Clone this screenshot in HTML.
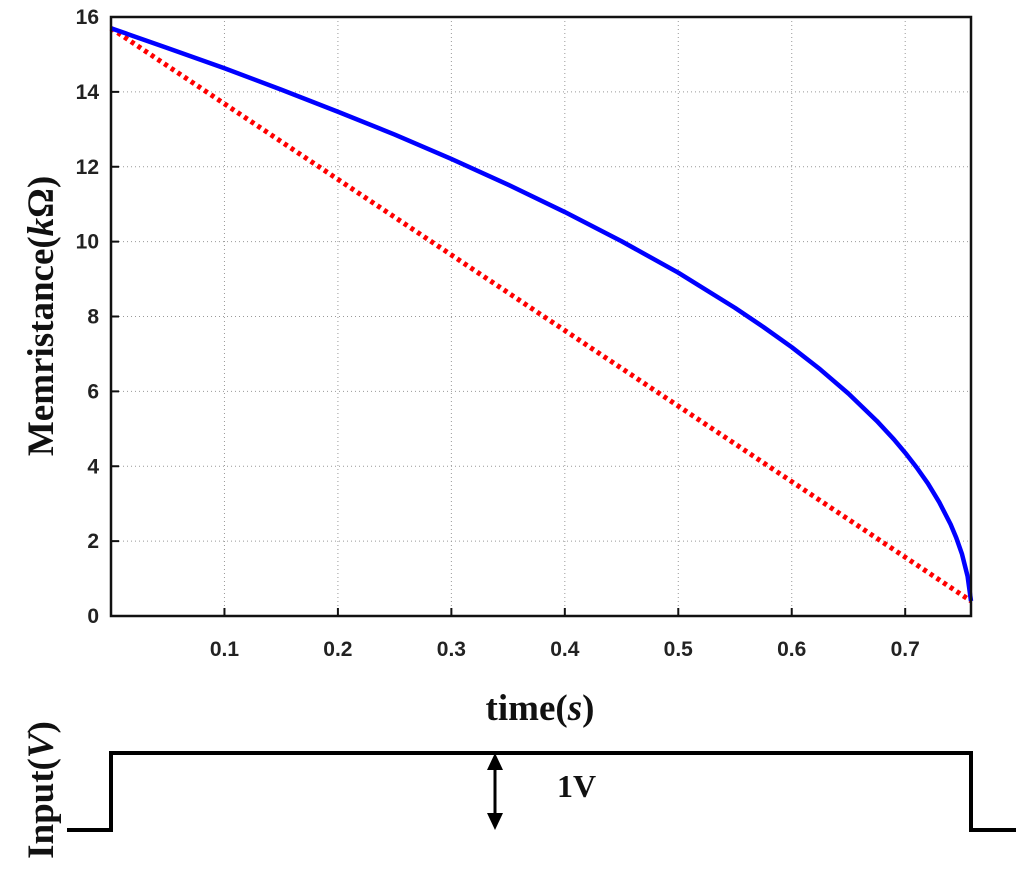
<!DOCTYPE html>
<html><head><meta charset="utf-8"><style>
body{margin:0;background:#fff;}
svg{display:block;}
.tk{font-family:"Liberation Sans",sans-serif;font-weight:bold;font-size:21px;fill:#222;}
.lb{font-family:"Liberation Serif",serif;font-weight:bold;font-size:37px;fill:#111;}
</style></head><body>
<svg id="c" width="1024" height="877" viewBox="0 0 1024 877">
<g id="grid"></g>
<g id="ticks"></g>
<g id="series"></g>
<rect x="111" y="17" width="860" height="599" fill="none" stroke="#111" stroke-width="2.5"/>
<text class="lb" x="540" y="720" text-anchor="middle">time(<tspan font-style="italic">s</tspan>)</text>
<text class="lb" transform="translate(53,316) rotate(-90)" text-anchor="middle">Memristance(<tspan font-style="italic">k</tspan>Ω)</text>
<text class="lb" transform="translate(53,790) rotate(-90)" text-anchor="middle">Input(<tspan font-style="italic">V</tspan>)</text>
<polyline points="67,830 111,830 111,753 971,753 971,830 1016,830" fill="none" stroke="#000" stroke-width="4"/>
<g>
<line x1="495" y1="765" x2="495" y2="818" stroke="#000" stroke-width="3"/>
<polygon points="495,753 487,770 503,770" fill="#000"/>
<polygon points="495,830 487,813 503,813" fill="#000"/>
</g>
<text class="lb" x="557" y="797" style="font-size:32px">1V</text>
</svg>
<script>
const xTicks=[0.1,0.2,0.3,0.4,0.5,0.6,0.7];
const yTicks=[0,2,4,6,8,10,12,14,16];
const tVals=[0,0.05,0.1,0.15,0.2,0.25,0.3,0.35,0.4,0.45,0.5,0.55,0.575,0.6,0.625,0.65,0.675,0.69,0.7,0.71,0.72,0.73,0.74,0.745,0.75,0.755,0.758];
const rVals=[15.7,15.17,14.63,14.06,13.47,12.86,12.21,11.52,10.79,10.01,9.17,8.23,7.72,7.18,6.59,5.94,5.21,4.72,4.36,3.97,3.54,3.04,2.45,2.09,1.66,1.06,0.4];
const linT=[0,0.758];
const linR=[15.7,0.4];
const NS="http://www.w3.org/2000/svg";
const X0=111,X1=971,Y0=616,Y1=17,XMAX=0.758,YMAX=16;
const sx=v=>X0+v/XMAX*(X1-X0);
const sy=v=>Y0-v/YMAX*(Y0-Y1);
function mk(tag,attrs,parent){const e=document.createElementNS(NS,tag);for(const k in attrs)e.setAttribute(k,attrs[k]);document.getElementById(parent).appendChild(e);return e;}
xTicks.forEach(v=>{
 const g=mk('line',{x1:sx(v),x2:sx(v),y1:Y1,y2:Y0,stroke:'#999','stroke-width':1,'stroke-dasharray':'1,3'},'grid');
 
 
 const t=mk('line',{x1:sx(v),x2:sx(v),y1:Y0,y2:Y0-8,stroke:'#111','stroke-width':2},'ticks');
 
 
 const l=mk('text',{x:sx(v),y:Y0+40,'text-anchor':'middle',class:'tk'},'ticks');l.textContent=v.toFixed(1);
 
 
});
yTicks.forEach(v=>{
 if(v>0&&v<16){const g=mk('line',{x1:X0,x2:X1,y1:sy(v),y2:sy(v),stroke:'#999','stroke-width':1,'stroke-dasharray':'1,3'},'grid');
 
 }
 const t=mk('line',{x1:X0,x2:X0+8,y1:sy(v),y2:sy(v),stroke:'#111','stroke-width':2},'ticks');
 
 
 const l=mk('text',{x:X0-12,y:sy(v)+7,'text-anchor':'end',class:'tk'},'ticks');l.textContent=v;
 
 
});
const lin=mk('polyline',{points:linT.map((t,i)=>sx(t)+','+sy(linR[i])).join(' '),fill:'none',stroke:'#f00','stroke-width':5,'stroke-dasharray':'4,4'},'series');


const cur=mk('polyline',{points:tVals.map((t,i)=>sx(t)+','+sy(rVals[i])).join(' '),fill:'none',stroke:'#0000ff','stroke-width':4.5,'stroke-linejoin':'round'},'series');


</script>
</body></html>
